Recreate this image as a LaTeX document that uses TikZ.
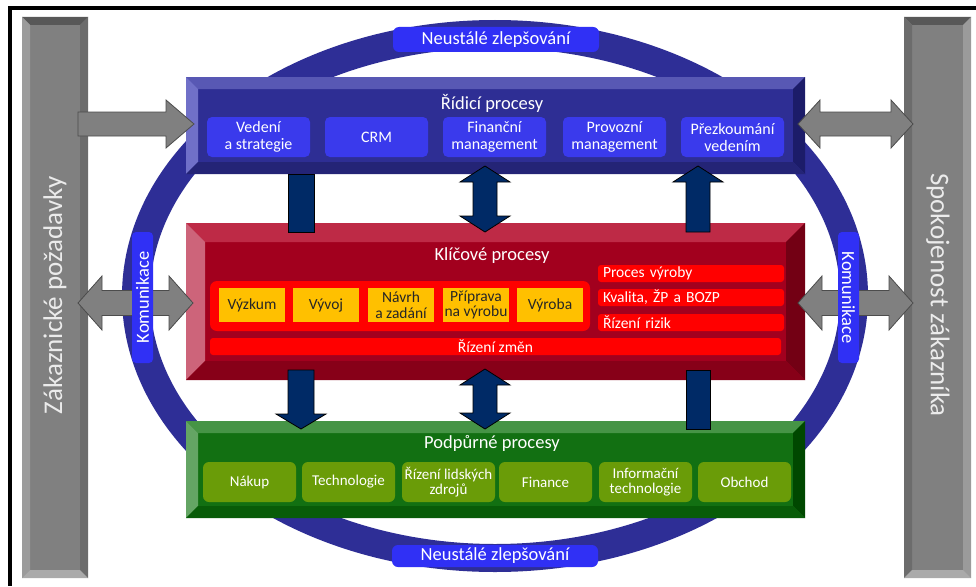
\documentclass[tikz,border=0pt]{standalone}
\usepackage{fontspec}
\setmainfont{Carlito}
\definecolor{ringblue}{RGB}{46,46,150}
\definecolor{lblblue}{RGB}{48,48,245}
\definecolor{ridface}{RGB}{46,46,148}
\definecolor{ridtop}{RGB}{88,88,180}
\definecolor{ridleft}{RGB}{112,112,200}
\definecolor{ridright}{RGB}{28,28,105}
\definecolor{ridbot}{RGB}{36,36,118}
\definecolor{ridsub}{RGB}{58,58,236}
\definecolor{kliface}{RGB}{162,0,30}
\definecolor{klitop}{RGB}{190,42,70}
\definecolor{klileft}{RGB}{205,100,122}
\definecolor{kliright}{RGB}{115,0,20}
\definecolor{klibot}{RGB}{135,0,24}
\definecolor{brightred}{RGB}{255,0,0}
\definecolor{yel}{RGB}{255,192,0}
\definecolor{podface}{RGB}{18,112,18}
\definecolor{podtop}{RGB}{70,148,70}
\definecolor{podleft}{RGB}{100,165,100}
\definecolor{podright}{RGB}{0,72,0}
\definecolor{podbot}{RGB}{8,92,8}
\definecolor{podsub}{RGB}{106,156,8}
\definecolor{navy}{RGB}{0,42,102}
\definecolor{garrow}{RGB}{128,128,128}
\definecolor{gblface}{RGB}{128,128,128}
\definecolor{gbltop}{RGB}{88,88,88}
\definecolor{gblleft}{RGB}{155,155,155}
\definecolor{gblright}{RGB}{108,108,108}
\definecolor{gblbot}{RGB}{170,170,170}
\definecolor{gbrface}{RGB}{128,128,128}
\definecolor{gbrtop}{RGB}{88,88,88}
\definecolor{gbrleft}{RGB}{108,108,108}
\definecolor{gbrright}{RGB}{155,155,155}
\definecolor{gbrbot}{RGB}{170,170,170}

% bevelled slab: name, x1, y1, x2, y2, bevel depth, colour prefix
\newcommand\bevelblock[7]{%
  \fill[#7face] (#2,#3) rectangle (#4,#5);
  \fill[#7top] (#2,#3) -- (#4,#3) -- ({#4-#6},{#3+#6}) -- ({#2+#6},{#3+#6}) -- cycle;
  \fill[#7left] (#2,#3) -- ({#2+#6},{#3+#6}) -- ({#2+#6},{#5-#6}) -- (#2,#5) -- cycle;
  \fill[#7right] (#4,#3) -- ({#4-#6},{#3+#6}) -- ({#4-#6},{#5-#6}) -- (#4,#5) -- cycle;
  \fill[#7bot] (#2,#5) -- ({#2+#6},{#5-#6}) -- ({#4-#6},{#5-#6}) -- (#4,#5) -- cycle;
  \node[inner sep=0pt,minimum width={(#4-#2)*1pt},minimum height={(#5-#3)*1pt}]
    (#1) at ({(#2+#4)/2},{(#3+#5)/2}) {};
}
% horizontal double block arrow: x1, x2, y, head length, head half width, shaft half width, style
\newcommand\hdarrow[7]{%
  \filldraw[#7] (#1,#3) -- ({#1+#4},{#3-#5}) -- ({#1+#4},{#3-#6}) -- ({#2-#4},{#3-#6})
    -- ({#2-#4},{#3-#5}) -- (#2,#3) -- ({#2-#4},{#3+#5}) -- ({#2-#4},{#3+#6})
    -- ({#1+#4},{#3+#6}) -- ({#1+#4},{#3+#5}) -- cycle;
}
% vertical double block arrow: y1, y2, x, head length, head half width, shaft half width, style
\newcommand\vdarrow[7]{%
  \filldraw[#7] (#3,#1) -- ({#3-#5},{#1+#4}) -- ({#3-#6},{#1+#4}) -- ({#3-#6},{#2-#4})
    -- ({#3-#5},{#2-#4}) -- (#3,#2) -- ({#3+#5},{#2-#4}) -- ({#3+#6},{#2-#4})
    -- ({#3+#6},{#1+#4}) -- ({#3+#5},{#1+#4}) -- cycle;
}

\tikzset{
  ttl/.style={text=white,inner sep=0pt,font=\fontsize{18.5}{20}\selectfont},
  ridbox/.style={fill=ridsub,rounded corners=5pt,minimum width=103pt,minimum height=40pt,
    inner sep=0pt,align=center,text=white,font=\fontsize{16}{17}\selectfont},
  yelbox/.style={fill=yel,minimum width=66pt,minimum height=34pt,inner sep=0pt,
    align=center,text=black!85,font=\fontsize{15.5}{15.5}\selectfont},
  redbar/.style={fill=brightred,rounded corners=3pt,minimum height=17pt,inner sep=0pt,
    inner xsep=5pt,text=white,font=\fontsize{15.5}{16}\selectfont},
  podbox/.style={fill=podsub,rounded corners=6pt,minimum width=93pt,minimum height=40pt,
    inner sep=0pt,align=center,text=white,font=\fontsize{15}{15.5}\selectfont},
  lbl/.style={fill=lblblue,rounded corners=6pt,inner sep=0pt,text=white,
    font=\fontsize{18.5}{20}\selectfont},
  sidetext/.style={text=white!92!black,inner sep=0pt,font=\fontsize{27}{30}\selectfont},
  grayarrow/.style={fill=garrow,draw=black!70,line width=0.8pt},
  navyarrow/.style={fill=navy,draw=black,line width=0.8pt},
}

\begin{document}
\begin{tikzpicture}[x=1pt,y=-1pt]
\useasboundingbox (0,0) rectangle (976,586);
\fill[white] (0,0) rectangle (976,586);

% frame lines
\fill[black] (8,6) rectangle (976,10);
\fill[black] (8,6) rectangle (12,586);

% customer bars
\bevelblock{leftbar}{22}{17}{88}{578}{8}{gbl}
\bevelblock{rightbar}{904}{17}{971}{578}{8}{gbr}
\node[sidetext,rotate=90] (reqtext) at (55,295) {Zákaznické požadavky};
\node[sidetext,rotate=-90] (sattext) at (938,295) {Spokojenost zákazníka};

% improvement ring
\draw[ringblue,line width=28pt] (495,296) ellipse [x radius=359pt, y radius=262pt];
\node[lbl,minimum width=206pt,minimum height=25pt] (ztop) at (496,39.5) {Neustálé zlepšování};
\node[lbl,minimum width=206pt,minimum height=22pt] (zbot) at (495,556) {Neustálé zlepšování};

% management processes
\bevelblock{rid}{186}{77}{805}{174}{12}{rid}
\node[ttl] (ridt) at (492,103) {Řídicí procesy};
\node[ridbox] (r1) at (258.5,137) {Vedení\\a strategie};
\node[ridbox] (r2) at (376.5,137) {CRM};
\node[ridbox] (r3) at (494.5,137) {Finanční\\management};
\node[ridbox] (r4) at (614.5,137) {Provozní\\management};
\node[ridbox] (r5) at (732.5,137) {Přezkoumání\\vedením};

% key processes
\bevelblock{kli}{186}{223}{805}{380}{19}{kli}
\node[ttl] (klit) at (492,256) {Klíčové procesy};
\node[fill=brightred,rounded corners=7pt,minimum width=380pt,minimum height=50pt,inner sep=0pt]
  (chain) at (400,306) {};
\node[yelbox] (k1) at (252,305) {Výzkum};
\node[yelbox] (k2) at (326,305) {Vývoj};
\node[yelbox] (k3) at (401,305) {Návrh\\a zadání};
\node[yelbox] (k4) at (476,305) {Příprava\\na výrobu};
\node[yelbox] (k5) at (550,305) {Výroba};
\node[redbar,text width=176pt,align=left] (k6) at (691,273.5) {Proces výroby};
\node[redbar,text width=176pt,align=left] (k7) at (691,297.5) {Kvalita, ŽP a BOZP};
\node[redbar,text width=176pt,align=left] (k8) at (691,322.5) {Řízení rizik};
\node[redbar,minimum width=571pt] (k9) at (495.5,346.5) {Řízení změn};

% support processes
\bevelblock{pod}{186}{421}{805}{518}{12}{pod}
\node[ttl] (podt) at (492,443) {Podpůrné procesy};
\node[podbox] (p1) at (249.5,482) {Nákup};
\node[podbox] (p2) at (348.5,482) {Technologie};
\node[podbox] (p3) at (448.5,482) {Řízení lidských\\zdrojů};
\node[podbox] (p4) at (545.5,482) {Finance};
\node[podbox] (p5) at (645.5,482) {Informační\\technologie};
\node[podbox] (p6) at (744.5,482) {Obchod};

% links between the slabs
\filldraw[navyarrow] (288,174) rectangle (314,232);
\vdarrow{166}{232}{485}{16}{25}{12}{navyarrow}
\filldraw[navyarrow] (686,232) -- (686,182) -- (673,182) -- (698,166) -- (723,182)
  -- (710,182) -- (710,232) -- cycle;
\filldraw[navyarrow] (288,370) -- (288,414) -- (276,414) -- (301,429) -- (326,414)
  -- (314,414) -- (314,370) -- cycle;
\vdarrow{369}{429}{485}{16}{25}{12}{navyarrow}
\filldraw[navyarrow] (686,370) rectangle (710,429);

% links to the customer bars
\filldraw[grayarrow] (78,112) -- (166,112) -- (166,100) -- (194,124) -- (166,148)
  -- (166,136) -- (78,136) -- cycle;
\hdarrow{798}{913}{124}{22}{24}{12}{grayarrow}
\hdarrow{78}{193}{303}{24}{27}{12.5}{grayarrow}
\hdarrow{798}{913}{303}{24}{27}{12.5}{grayarrow}

% communication labels
\node[lbl,rotate=90,minimum width=131pt,minimum height=21pt,rounded corners=4pt]
  (komL) at (142.5,297.5) {Komunikace};
\node[lbl,rotate=-90,minimum width=131pt,minimum height=21pt,rounded corners=4pt]
  (komR) at (848.5,297.5) {Komunikace};
\end{tikzpicture}
\end{document}
